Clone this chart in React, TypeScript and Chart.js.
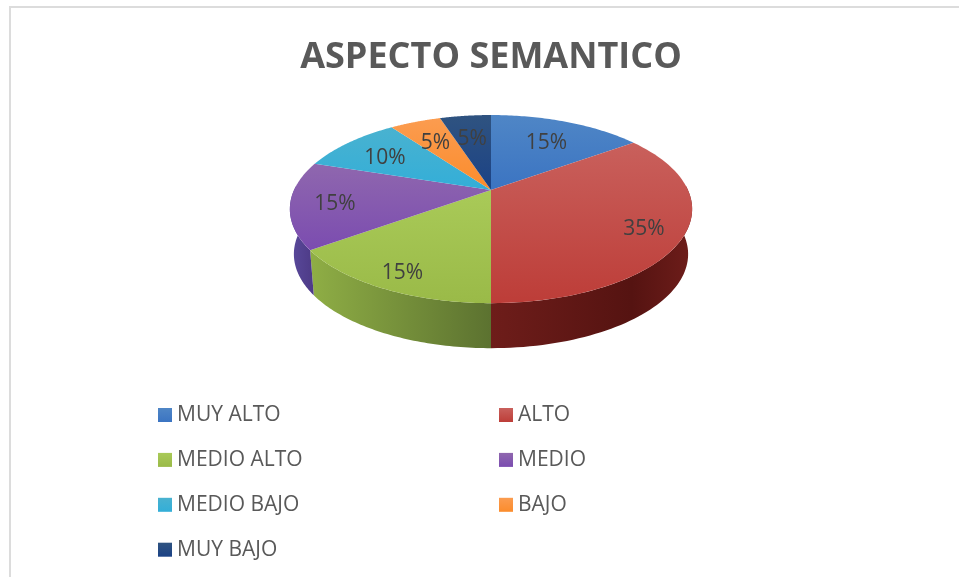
import React, { useEffect, useRef } from "react";
import { Chart, registerables } from "chart.js";

Chart.register(...registerables);

const titleText = "ASPECTO SEMANTICO";
const categories = ["MUY ALTO", "ALTO", "MEDIO ALTO", "MEDIO", "MEDIO BAJO", "BAJO", "MUY BAJO"];
const percents = [15, 35, 15, 15, 10, 5, 5];
const faceLight = ["#4f86c6", "#c9605c", "#a9ca58", "#8f67ae", "#49b2d0", "#fb9c50", "#2f5380"];
const faceDark = ["#3b74c2", "#bd3d38", "#9aba48", "#7b4cb0", "#33aed8", "#fb8c2c", "#1b4286"];
const wallLight = ["#2a4f7c", "#6e1d1a", "#8fae45", "#5a4a9c", "#2b7f99", "#b5651d", "#15294a"];
const wallDark = ["#2a4f7c", "#551311", "#5c7230", "#4d3a86", "#2b7f99", "#b5651d", "#15294a"];
const textColor = "#404040";
const legendColor = "#595959";
const fontFamily = "'Open Sans', 'Noto Sans', sans-serif";

const K = 0.202; // perspective strength
const YSCALE = 0.458; // ground plane foreshortening relative to the radius
const DEPTH = 45;
const BOTTOM_X = 0.98;

function project(el: any, a: number, r: number, drop = false) {
  const u = Math.cos(a) * r;
  const v = Math.sin(a) * r;
  const w = 1 - K * v;
  const R = el.outerRadius;
  const xs = drop ? BOTTOM_X : 1;
  return {
    x: el.x + (R * u * xs) / w,
    y: el.y + (R * YSCALE * v) / w + (drop ? DEPTH : 0),
  };
}

const pie3d = {
  id: "pie3d",
  beforeDraw(chart: any) {
    chart.ctx.filter = "blur(0.4px)";
  },
  beforeDatasetDraw(chart: any) {
    const ctx = chart.ctx;
    const arcs = chart.getDatasetMeta(0).data;
    const steps = 60;
    ctx.save();
    ctx.filter = "blur(0.7px)";
    // side walls
    arcs.forEach((el: any, i: number) => {
      const a0 = Math.max(el.startAngle, -0.05);
      const a1 = Math.min(el.endAngle, Math.PI + 0.05);
      if (a1 <= a0) return;
      const top: any[] = [];
      const bottom: any[] = [];
      for (let s = 0; s <= steps; s++) {
        const a = a0 + ((a1 - a0) * s) / steps;
        top.push(project(el, a, 1));
        bottom.push(project(el, a, 1, true));
      }
      const xsAll = top.concat(bottom).map((p) => p.x);
      const xMin = Math.min(...xsAll);
      const xMax = Math.max(...xsAll);
      const g = ctx.createLinearGradient(xMin, 0, xMax, 0);
      if (xMax > el.x + 1) {
        g.addColorStop(0, wallLight[i]);
        g.addColorStop(0.7, wallDark[i]);
        g.addColorStop(1, wallLight[i]);
      } else {
        g.addColorStop(0, wallLight[i]);
        g.addColorStop(1, wallDark[i]);
      }
      ctx.beginPath();
      top.forEach((p, n) => (n ? ctx.lineTo(p.x, p.y) : ctx.moveTo(p.x, p.y)));
      bottom.reverse().forEach((p) => ctx.lineTo(p.x, p.y));
      ctx.closePath();
      ctx.fillStyle = g;
      ctx.fill();
    });
    // top faces
    arcs.forEach((el: any, i: number) => {
      const pts: any[] = [];
      for (let s = 0; s <= steps; s++) {
        pts.push(project(el, el.startAngle + ((el.endAngle - el.startAngle) * s) / steps, 1));
      }
      const ys = pts.map((p) => p.y).concat(el.y);
      const g = ctx.createLinearGradient(0, Math.min(...ys), 0, Math.max(...ys));
      g.addColorStop(0, faceLight[i]);
      g.addColorStop(1, faceDark[i]);
      ctx.beginPath();
      ctx.moveTo(el.x, el.y);
      pts.forEach((p) => ctx.lineTo(p.x, p.y));
      ctx.closePath();
      ctx.fillStyle = g;
      ctx.fill();
    });
    ctx.restore();
    return false;
  },
  afterDraw(chart: any) {
    const ctx = chart.ctx;
    const arcs = chart.getDatasetMeta(0).data;
    ctx.save();
    ctx.filter = "blur(0.4px)";
    ctx.textBaseline = "middle";
    // data labels
    ctx.font = `21px ${fontFamily}`;
    ctx.fillStyle = textColor;
    ctx.textAlign = "center";
    arcs.forEach((el: any, i: number) => {
      const mid = (el.startAngle + el.endAngle) / 2;
      const p = project(el, mid, 0.77 + 0.08 * Math.sin(mid));
      ctx.fillText(`${percents[i]}%`, p.x, p.y + 3);
    });
    // legend
    ctx.textAlign = "left";
    ctx.font = `21px ${fontFamily}`;
    categories.forEach((name, i) => {
      const col = i % 2;
      const row = Math.floor(i / 2);
      const x = col ? 499 : 158;
      const y = 408 + row * 44.9;
      const g = ctx.createLinearGradient(0, y, 0, y + 14);
      g.addColorStop(0, faceLight[i]);
      g.addColorStop(1, faceDark[i]);
      ctx.fillStyle = g;
      ctx.fillRect(x, y, 14, 14);
      ctx.fillStyle = legendColor;
      ctx.fillText(name, x + 19, y + 7);
    });
    ctx.restore();
    ctx.filter = "none";
  },
};

export default function App() {
  const ref = useRef<HTMLCanvasElement | null>(null);
  useEffect(() => {
    const canvas = ref.current;
    if (!canvas) return;
    const chart = new Chart(canvas, {
      type: "pie",
      data: {
        labels: categories,
        datasets: [{ data: percents, backgroundColor: faceDark, borderWidth: 0, radius: 197 }],
      },
      options: {
        responsive: false,
        animation: false,
        devicePixelRatio: 1,
        layout: { padding: { left: 23, right: 0, top: 0, bottom: 297 } },
        plugins: {
          legend: { display: false },
          tooltip: { enabled: false },
          title: {
            display: true,
            text: titleText,
            color: "#595959",
            font: { family: fontFamily, size: 36, weight: "700" },
            padding: { top: 36, bottom: 21 },
          },
        },
      },
      plugins: [pie3d],
    } as any);
    return () => chart.destroy();
  }, []);
  return (
    <div style={{ position: "fixed", left: 0, top: 0, width: 959, height: 577, overflow: "hidden", background: "#fff" }}>
      <canvas ref={ref} width={959} height={577} style={{ position: "absolute", left: 0, top: 0 }} />
      <div style={{ position: "absolute", left: 9, top: 6, width: 950, height: 2, background: "#dcdcdc" }} />
      <div style={{ position: "absolute", left: 9, top: 6, width: 2, height: 571, background: "#dcdcdc" }} />
    </div>
  );
}
